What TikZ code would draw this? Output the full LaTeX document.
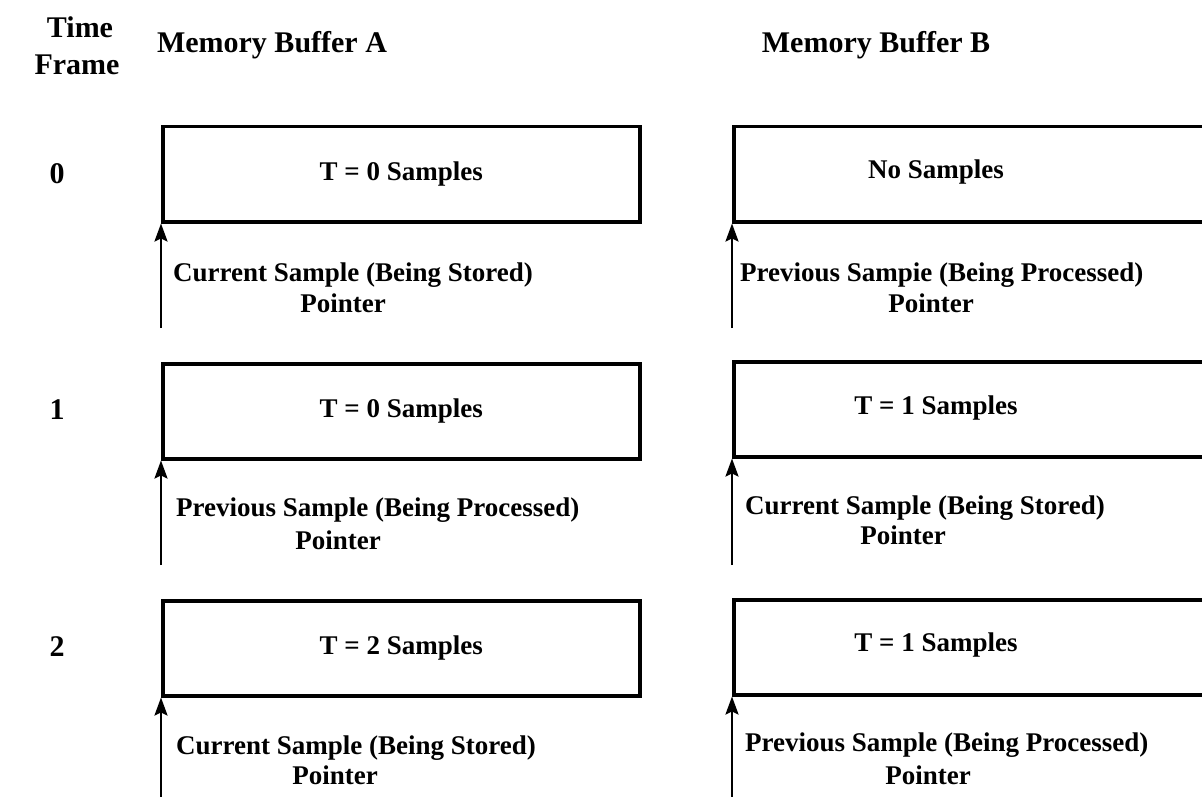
\documentclass[tikz,border=0pt]{standalone}
\usepackage{fontspec}
\setmainfont{Liberation Serif}
\usetikzlibrary{arrows.meta}
\begin{document}
\begin{tikzpicture}[x=1pt,y=-1pt,
  bufbox/.style={draw, line width=3.5pt, rectangle, minimum height=95pt,
    inner sep=0pt, anchor=north west},
  bufA/.style={bufbox, minimum width=477pt},
  bufB/.style={bufbox, minimum width=500pt},
  ptr/.style={-{Stealth[length=18pt,width=13pt,inset=3pt]}, line width=2.2pt},
  hdr/.style={font=\fontsize{30}{34}\selectfont\bfseries, inner sep=0pt},
  content/.style={font=\fontsize{27}{31}\selectfont\bfseries, inner sep=0pt},
  lbl/.style={font=\fontsize{27}{31}\selectfont\bfseries, inner sep=0pt, anchor=west},
  ptrword/.style={font=\fontsize{27}{31}\selectfont\bfseries, inner sep=0pt}
]
\useasboundingbox (0,0) rectangle (1202,797);
\clip (0,0) rectangle (1202,797);

% column and row headings
\node[hdr] (hTime)  at (80,27)  {Time};
\node[hdr] (hFrame) at (77,65)  {Frame};
\node[hdr] (hA)     at (272,45) {Memory Buffer A};
\node[hdr] (hB)     at (876,45) {Memory Buffer B};

\node[hdr] (f0) at (57,174) {0};
\node[hdr] (f1) at (57,410) {1};
\node[hdr] (f2) at (57,647) {2};

% ---- time frame 0 ----
\node[bufA] (a0) at (161,125) {};
\node[content] (a0t) at (a0.center) {T = 0 Samples};
\node[bufB] (b0) at (732,125) {};
\node[content] (b0t) at (936,172) {No Samples};
\coordinate (pa0) at (161,328);
\coordinate (pb0) at (732,328);
\draw[ptr] (pa0) -- (a0.south west);
\draw[ptr] (pb0) -- (b0.south west);
\node[lbl] (la0) at (173,275) {Current Sample (Being Stored)};
\node[ptrword] (wa0) at (343,303) {Pointer};
\node[lbl] (lb0) at (740,275) {Previous Sampie (Being Processed)};
\node[ptrword] (wb0) at (931,303) {Pointer};

% ---- time frame 1 ----
\node[bufA] (a1) at (161,362) {};
\node[content] (a1t) at (a1.center) {T = 0 Samples};
\node[bufB] (b1) at (732,360) {};
\node[content] (b1t) at (936,408) {T = 1 Samples};
\coordinate (pa1) at (161,565);
\coordinate (pb1) at (732,565);
\draw[ptr] (pa1) -- (a1.south west);
\draw[ptr] (pb1) -- (b1.south west);
\node[lbl] (la1) at (176,510) {Previous Sample (Being Processed)};
\node[ptrword] (wa1) at (338,540) {Pointer};
\node[lbl] (lb1) at (745,508) {Current Sample (Being Stored)};
\node[ptrword] (wb1) at (903,535) {Pointer};

% ---- time frame 2 ----
\node[bufA] (a2) at (161,599) {};
\node[content] (a2t) at (a2.center) {T = 2 Samples};
\node[bufB] (b2) at (732,598) {};
\node[content] (b2t) at (936,645) {T = 1 Samples};
\coordinate (pa2) at (161,801);
\coordinate (pb2) at (732,801);
\draw[ptr] (pa2) -- (a2.south west);
\draw[ptr] (pb2) -- (b2.south west);
\node[lbl] (la2) at (176,748) {Current Sample (Being Stored)};
\node[ptrword] (wa2) at (335,775) {Pointer};
\node[lbl] (lb2) at (745,745) {Previous Sample (Being Processed)};
\node[ptrword] (wb2) at (928,775) {Pointer};
\end{tikzpicture}
\end{document}
